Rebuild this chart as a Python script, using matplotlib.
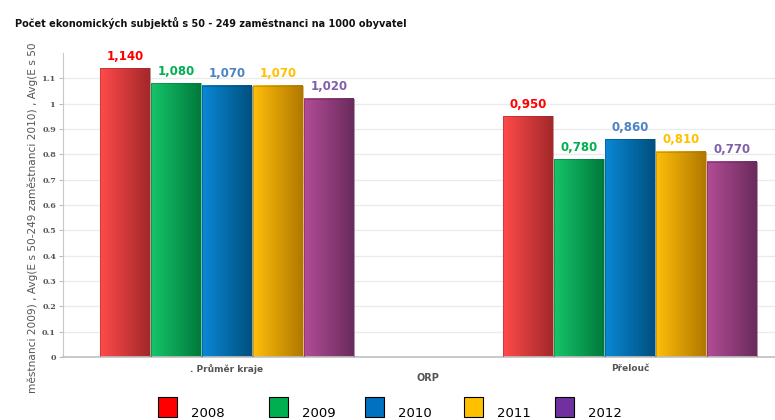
import matplotlib
matplotlib.use('Agg')
import matplotlib.pyplot as plt
import numpy as np
from matplotlib.colors import LinearSegmentedColormap
from matplotlib.patches import Rectangle

# data
categories = ['. Průměr kraje', 'Přelouč']
years = ['2008', '2009', '2010', '2011', '2012']
values = {
    '2008': [1.14, 0.95],
    '2009': [1.08, 0.78],
    '2010': [1.07, 0.86],
    '2011': [1.07, 0.81],
    '2012': [1.02, 0.77],
}
labels = {
    '2008': ['1,140', '0,950'],
    '2009': ['1,080', '0,780'],
    '2010': ['1,070', '0,860'],
    '2011': ['1,070', '0,810'],
    '2012': ['1,020', '0,770'],
}
yticks = [0, 0.1, 0.2, 0.3, 0.4, 0.5, 0.6, 0.7, 0.8, 0.9, 1, 1.1]
ytick_labels = ['0', '0.1', '0.2', '0.3', '0.4', '0.5', '0.6', '0.7', '0.8', '0.9', '1', '1.1']

# styles
grad = {
    '2008': ('#ff4a4a', '#a3282a'),
    '2009': ('#16c46a', '#007a3c'),
    '2010': ('#0a88d6', '#00507e'),
    '2011': ('#ffbe0a', '#b07800'),
    '2012': ('#b24c96', '#6a2c5c'),
}
label_col = {'2008': '#ff0000', '2009': '#00b050', '2010': '#4a84c4',
             '2011': '#ffc000', '2012': '#8060a8'}
legend_col = {'2008': '#ff0000', '2009': '#00b050', '2010': '#0070c0',
              '2011': '#ffc000', '2012': '#7030a0'}

W, H = 775, 420
fig = plt.figure(figsize=(W / 100, H / 100), dpi=100)
ax = fig.add_axes([63 / W, (H - 357) / H, (W - 63) / W, (357 - 53) / H])

bw = 0.1266
xs = np.arange(len(categories))
for i, yr in enumerate(years):
    cmap = LinearSegmentedColormap.from_list('g' + yr, list(grad[yr]))
    for j, x in enumerate(xs):
        x0 = x + (i - 2) * bw - bw / 2 + 0.002
        x1 = x0 + bw - 0.004
        h = values[yr][j]
        ax.imshow(np.linspace(0, 1, 64).reshape(1, -1), cmap=cmap,
                  extent=(x0, x1, 0, h), aspect='auto', zorder=2,
                  interpolation='bilinear')
        ax.add_patch(Rectangle((x0, 0), x1 - x0, h, fill=False,
                               edgecolor=grad[yr][1], linewidth=0.6,
                               alpha=0.6, zorder=3))
        ax.text((x0 + x1) / 2, h + 0.022, labels[yr][j], ha='center',
                va='bottom', color=label_col[yr], fontsize=8.5,
                fontweight='bold', zorder=4)

ax.set_xlim(-0.407, 1.36)
ax.set_ylim(0, 1.2)
ax.set_yticks(yticks)
ax.set_yticklabels(ytick_labels, fontsize=5.8, fontweight='bold',
                   color='#555555', family='DejaVu Serif')
ax.set_xticks(xs)
ax.set_xticklabels(categories, fontsize=6.5, fontweight='bold', color='#555555')
ax.tick_params(axis='x', length=0, pad=5)
ax.tick_params(axis='y', length=3, color='#bbbbbb', pad=2)
ax.yaxis.grid(True, color='#ebebeb', linewidth=1, zorder=0)
ax.set_axisbelow(True)
for s in ['top', 'right']:
    ax.spines[s].set_visible(False)
ax.spines['left'].set_color('#c8c8c8')
ax.spines['bottom'].set_color('#c0c0c0')
ax.spines['bottom'].set_linewidth(1.2)

fig.text(428 / W, (H - 378) / H, 'ORP', ha='center', va='center',
         fontsize=7, fontweight='bold', color='#555555')

fig.text(15 / W, (H - 27) / H,
         'Počet ekonomických subjektů s 50 - 249 zaměstnanci na 1000 obyvatel',
         ha='left', va='baseline', fontsize=7, fontweight='bold', color='#111111')

fig.text(33 / W, (H - 393) / H,
         'městnanci 2009) , Avg(E s 50-249 zaměstnanci 2010) , Avg(E s 50',
         rotation=90, ha='center', va='bottom', fontsize=7.6, color='#555555')

# legend
leg_x = [158, 269, 365, 464, 555]
for yr, lx in zip(years, leg_x):
    fig.patches.append(Rectangle((lx / W, (H - 417) / H), 19 / W, 20 / H,
                                 transform=fig.transFigure, facecolor=legend_col[yr],
                                 edgecolor='black', linewidth=0.8))
    fig.text((lx + 33) / W, (H - 417) / H, yr, ha='left', va='baseline',
             fontsize=9.5, color='black')

fig.savefig('out.png', dpi=100)
